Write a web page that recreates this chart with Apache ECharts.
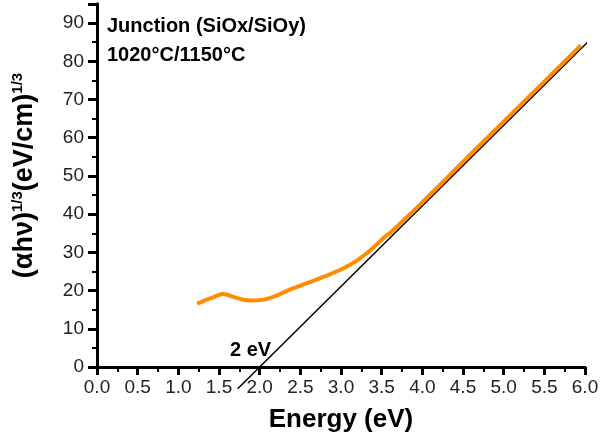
<!DOCTYPE html>
<html><head><meta charset="utf-8">
<script src="https://cdn.jsdelivr.net/npm/echarts@6/dist/echarts.min.js"></script>
<style>html,body{margin:0;padding:0;background:#fff}#c{width:600px;height:435px}</style>
</head><body><div id="c"></div>
<script>
var energy = [1.23,1.30,1.40,1.50,1.55,1.60,1.70,1.80,1.90,2.00,2.10,2.20,2.30,2.40,2.50,2.60,2.70,2.80,2.90,3.00,3.10,3.20,3.30,3.40,3.50,3.55,3.60,3.70,3.80,3.90,4.00,4.20,4.40,4.60,4.80,5.00,5.20,5.40,5.60,5.80,5.95];
var absorb = [16.6,17.2,18.0,18.9,19.1,18.9,18.2,17.6,17.4,17.5,17.9,18.6,19.6,20.5,21.3,22.1,22.9,23.7,24.6,25.5,26.6,27.9,29.5,31.3,33.3,34.3,35.0,37.0,39.0,41.0,43.1,47.3,51.6,55.8,60.0,64.2,68.4,72.6,76.8,81.0,84.2];
var fitX = [1.73, 6.05];
var fitY = [-5.7, 85.4];
var xTicks = [0,6,0.5];
var yTicks = [0,95,10];
var labelTop = 'Junction (SiOx/SiOy)';
var labelBottom = '1020°C/1150°C';
var gapLabel = '2 eV';

var curve = energy.map(function(x,i){return [x, absorb[i]];});
var fit = fitX.map(function(x,i){return [x, fitY[i]];});
var chart = echarts.init(document.getElementById('c'));
var font = 'Liberation Sans, Arial, sans-serif';
chart.setOption({
  animation:false,
  grid:{left:97,right:15,top:4,bottom:68,containLabel:false,outerBoundsMode:'none'},
  xAxis:[{
    type:'value', min:xTicks[0], max:xTicks[1], interval:xTicks[2],
    name:'Energy (eV)', nameLocation:'middle', nameGap:40,
    nameTextStyle:{fontFamily:font,fontSize:26,fontWeight:'bold',color:'#000'},
    axisLine:{show:true,onZero:false,lineStyle:{color:'#000',width:3}},
    axisTick:{show:true,inside:false,length:8,lineStyle:{color:'#000',width:3}},
    minorTick:{show:true,splitNumber:2,length:5,lineStyle:{color:'#000',width:2}},
    splitLine:{show:false},
    axisLabel:{fontFamily:font,fontSize:19,color:'#222',margin:11,formatter:function(v){return v.toFixed(1);}}
  },{
    type:'value', position:'top', min:xTicks[0], max:xTicks[1],
    axisLine:{show:true,lineStyle:{color:'#000',width:3}},
    axisTick:{show:false},axisLabel:{show:false},splitLine:{show:false}
  }],
  yAxis:[{
    type:'value', min:yTicks[0], max:yTicks[1], interval:yTicks[2],
    name:'{b|(αhν)}{s|1/3}{b|(eV/cm)}{s|1/3}', nameLocation:'middle', nameGap:58, nameRotate:90,
    nameTextStyle:{fontFamily:font,color:'#000',padding:[0,0,0,20],
      rich:{b:{fontFamily:font,fontSize:27,fontWeight:'bold',color:'#000'},
            s:{fontFamily:font,fontSize:15,fontWeight:'bold',color:'#000',verticalAlign:'top',padding:[0,0,14,0]}}},
    axisLine:{show:true,onZero:false,lineStyle:{color:'#000',width:3}},
    axisTick:{show:true,length:9,lineStyle:{color:'#000',width:3}},
    minorTick:{show:true,splitNumber:2,length:5,lineStyle:{color:'#000',width:2}},
    splitLine:{show:false},
    axisLabel:{fontFamily:font,fontSize:19,color:'#222',margin:13,formatter:function(v){return v>90?'':String(v);}}
  },{
    type:'value', position:'right', min:yTicks[0], max:yTicks[1],
    axisLine:{show:true,lineStyle:{color:'#000',width:3}},
    axisTick:{show:false},axisLabel:{show:false},splitLine:{show:false}
  }],
  graphic:[
    {type:'text',left:107,top:16,style:{text:labelTop,font:'bold 20px '+font,fill:'#000'}},
    {type:'text',left:107,top:45,style:{text:labelBottom,font:'bold 20px '+font,fill:'#000'}},
    {type:'text',left:230,top:340,style:{text:gapLabel,font:'bold 20px '+font,fill:'#000'}}
  ],
  series:[
    {type:'line',data:fit,clip:false,symbol:'none',lineStyle:{color:'#000',width:1.5},z:2},
    {type:'line',data:curve,symbol:'none',smooth:0.3,lineStyle:{color:'#FF8C00',width:4},z:3}
  ]
});
</script></body></html>
